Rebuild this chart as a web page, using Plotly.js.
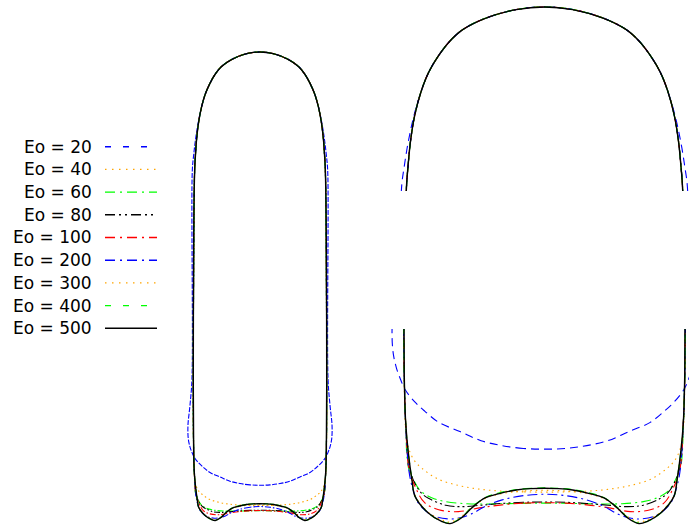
<!DOCTYPE html>
<html><head><meta charset="utf-8">
<script src="https://cdn.plot.ly/plotly-3.0.1.min.js"></script>
<style>html,body{margin:0;padding:0;background:#fff}#chart{width:689px;height:526px}</style>
</head><body><div id="chart"></div>
<script>
// Series labels and styles
const labels = ['Eo = 20','Eo = 40','Eo = 60','Eo = 80','Eo = 100','Eo = 200','Eo = 300','Eo = 400','Eo = 500'];
const colors = ['#0000ff','#ffa500','#00ff00','#000000','#ff0000','#0000ff','#ffa500','#00ff00','#000000'];
const zoomDash = ['8px,5px','1.5px,4px','10px,4px,2px,4px','10px,3px,2px,3px,2px,3px','10px,4px,2px,4px','10px,4px,2px,4px','1.5px,4px','8px,5px','solid'];
const fullDash = ['5px,1.5px','1.5px,3px','6px,2px,1.5px,2px','6px,2px,1.5px,2px,1.5px,2px','6px,2px,1.5px,2px','6px,2px,1.5px,2px','1.5px,3px','5px,1.5px','solid'];
const legendDash = ['6px,12px','1.5px,5.5px','10px,5px,2px,5px','10px,4px,2px,4px,2px,4px','10px,5px,2px,5px','10px,5px,2px,5px','1.5px,5.5px','6px,12px','solid'];

// Bubble half-profiles: r = radial position (film wall = 1), z = depth below the nose apex
const noseR   = [0, 0.2, 0.42, 0.58, 0.67, 0.75, 0.82, 0.875, 0.92, 0.95, 0.968, 0.98];
const noseZ   = [0, 0.025, 0.11, 0.22, 0.33, 0.47, 0.63, 0.82, 1.05, 1.3, 1.55, 1.78];
const noseR20 = [0, 0.2, 0.42, 0.58, 0.67, 0.75, 0.82, 0.875, 0.925, 0.965, 0.995, 1.015];

// Tails (from the film down to the tail centre)
const tailR20 = [1.02, 1.05, 1.08, 1.075, 1.05, 1.025, 0.99, 0.92, 0.85, 0.75, 0.6, 0.45, 0.3, 0.15, 0];
const tailZ20 = [4.9, 5.3, 5.6, 5.8, 5.92, 5.99, 6.07, 6.16, 6.225, 6.305, 6.37, 6.435, 6.47, 6.49, 6.495];
const tailR40 = [1.0, 0.995, 0.985, 0.96, 0.92, 0.87, 0.76, 0.6, 0.45, 0.3, 0.15, 0];
const tailZ40 = [5.0, 6.0, 6.35, 6.5, 6.58, 6.63, 6.705, 6.755, 6.78, 6.793, 6.798, 6.8];
const tailR60 = [1.0, 0.995, 0.985, 0.966, 0.93, 0.88, 0.8, 0.7, 0.55, 0.4, 0.2, 0];
const tailZ60 = [5.0, 5.95, 6.3, 6.62, 6.71, 6.79, 6.84, 6.867, 6.882, 6.884, 6.88, 6.878];
const tailR80 = [1.0, 0.995, 0.985, 0.96, 0.918, 0.87, 0.82, 0.7, 0.59, 0.45, 0.3, 0.15, 0];
const tailZ80 = [5.0, 5.95, 6.3, 6.62, 6.74, 6.81, 6.845, 6.893, 6.903, 6.893, 6.88, 6.872, 6.87];
const tailR100 = [1.0, 0.995, 0.985, 0.96, 0.918, 0.85, 0.75, 0.61, 0.45, 0.3, 0.15, 0];
const tailZ100 = [5.0, 5.95, 6.3, 6.64, 6.76, 6.875, 6.925, 6.938, 6.91, 6.89, 6.878, 6.875];
const tailR200 = [1.0, 0.995, 0.985, 0.96, 0.93, 0.895, 0.8, 0.68, 0.6, 0.52, 0.42, 0.3, 0.15, 0];
const tailZ200 = [5.0, 5.95, 6.3, 6.66, 6.79, 6.877, 6.962, 6.99, 6.982, 6.955, 6.9, 6.855, 6.825, 6.815];
const tailR300 = [1.0, 0.995, 0.985, 0.966, 0.94, 0.915, 0.82, 0.72, 0.67, 0.6, 0.52, 0.42, 0.3, 0.15, 0];
const tailZ300 = [5.0, 5.95, 6.3, 6.53, 6.71, 6.83, 6.945, 7.0, 7.012, 6.98, 6.915, 6.845, 6.81, 6.792, 6.787];
const tailR400 = [1.0, 0.995, 0.985, 0.966, 0.94, 0.918, 0.824, 0.73, 0.67, 0.59, 0.52, 0.42, 0.32, 0.2, 0.1, 0];
const tailZ400 = [5.0, 5.95, 6.3, 6.52, 6.71, 6.83, 6.948, 7.007, 7.02, 6.98, 6.91, 6.838, 6.805, 6.782, 6.773, 6.77];
const tailR500 = [1.0, 0.995, 0.985, 0.966, 0.94, 0.918, 0.824, 0.73, 0.67, 0.59, 0.516, 0.422, 0.32, 0.2, 0.1, 0];
const tailZ500 = [5.0, 5.95, 6.3, 6.52, 6.714, 6.83, 6.948, 7.007, 7.023, 6.983, 6.912, 6.841, 6.81, 6.785, 6.775, 6.772];

const noses = [[noseR20, noseZ], [noseR, noseZ], [noseR, noseZ], [noseR, noseZ], [noseR, noseZ], [noseR, noseZ], [noseR, noseZ], [noseR, noseZ], [noseR, noseZ]];
const tails = [[tailR20, tailZ20], [tailR40, tailZ40], [tailR60, tailZ60], [tailR80, tailZ80], [tailR100, tailZ100], [tailR200, tailZ200], [tailR300, tailZ300], [tailR400, tailZ400], [tailR500, tailZ500]];

// mirror a half profile into a full outline
function outline(nose, tail) {
  const hr = nose[0].concat(tail[0]);
  const hz = nose[1].concat(tail[1]);
  const x = [], y = [];
  for (let i = hr.length - 1; i >= 1; i--) { x.push(-hr[i]); y.push(hz[i]); }
  for (let i = 0; i < hr.length; i++) { x.push(hr[i]); y.push(hz[i]); }
  return {x, y};
}

const W = 689, H = 526;
const traces = [];
const panels = [['x', 'y', fullDash], ['x2', 'y2', zoomDash], ['x3', 'y3', zoomDash]];
labels.forEach((lab, k) => {
  const o = outline(noses[k], tails[k]);
  panels.forEach(([xa, ya, dashes]) => {
    traces.push({
      type: 'scatter', mode: 'lines', x: o.x, y: o.y, xaxis: xa, yaxis: ya,
      line: {color: colors[k], width: k === 8 ? 1.4 : 1.1, dash: dashes[k], shape: 'spline', smoothing: 1},
      showlegend: false, hoverinfo: 'skip'
    });
  });
  // legend key
  traces.push({
    type: 'scatter', mode: 'lines', x: [0, 1], y: [k, k], xaxis: 'x4', yaxis: 'y4',
    line: {color: colors[k], width: 1.4, dash: legendDash[k]},
    showlegend: false, hoverinfo: 'skip'
  });
});

const hidden = {showgrid: false, zeroline: false, showticklabels: false, showline: false, ticks: '', fixedrange: true};
function xd(a, b) { return [a / W, b / W]; }
function yd(top, bot) { return [1 - bot / H, 1 - top / H]; }

const layout = {
  width: W, height: H,
  margin: {l: 0, r: 0, t: 0, b: 0},
  paper_bgcolor: '#fff', plot_bgcolor: 'rgba(0,0,0,0)',
  showlegend: false,
  font: {family: 'DejaVu Sans, sans-serif', size: 17, color: '#000'},
  xaxis:  Object.assign({}, hidden, {domain: xd(175, 345), range: [(175 - 260) / 66.7, (345 - 260) / 66.7], anchor: 'y'}),
  yaxis:  Object.assign({}, hidden, {domain: yd(30, 526), range: [(526 - 52) / 66.7, (30 - 52) / 66.7], anchor: 'x'}),
  xaxis2: Object.assign({}, hidden, {domain: xd(380, 689), range: [(380 - 544.5) / 141, (689 - 544.5) / 141], anchor: 'y2'}),
  yaxis2: Object.assign({}, hidden, {domain: yd(0, 191), range: [(191 - 7) / 103, (0 - 7) / 103], anchor: 'x2'}),
  xaxis3: Object.assign({}, hidden, {domain: xd(380, 689), range: [(380 - 544.5) / 141, (689 - 544.5) / 141], anchor: 'y3'}),
  yaxis3: Object.assign({}, hidden, {domain: yd(329, 526), range: [5.65 + (526 - 330) / 141, 5.65 + (329 - 330) / 141], anchor: 'x3'}),
  xaxis4: Object.assign({}, hidden, {domain: xd(105, 157), range: [0, 1], anchor: 'y4'}),
  yaxis4: Object.assign({}, hidden, {domain: yd(135, 340), range: [(340 - 146.7) / 22.7, (135 - 146.7) / 22.7], anchor: 'x4'}),
  annotations: labels.map((lab, k) => ({
    text: lab, xref: 'paper', x: 93.5 / W, xanchor: 'right', yref: 'y4', y: k, yanchor: 'middle',
    showarrow: false, font: {family: 'DejaVu Sans, sans-serif', size: 17, color: '#000'}
  }))
};

Plotly.newPlot('chart', traces, layout, {staticPlot: true, displayModeBar: false});
</script>
</body></html>
